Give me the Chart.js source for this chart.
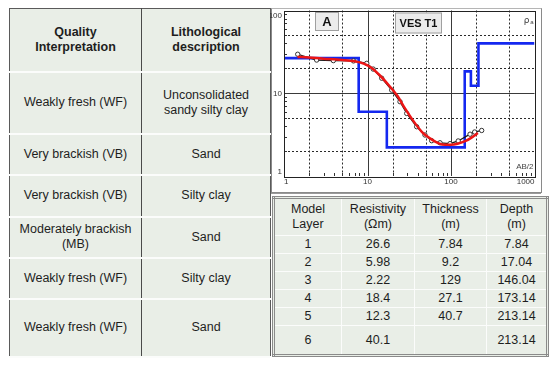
<!DOCTYPE html>
<html>
<head>
<meta charset="utf-8">
<script src="https://cdn.jsdelivr.net/npm/chart.js@4.4.1/dist/chart.umd.min.js"></script>
<style>
  body { margin: 0; width: 550px; height: 366px; background: #fff; position: relative; overflow: hidden;
         font-family: "Liberation Sans", Arial, sans-serif; color: #1e1e1e; }
  table { border-collapse: collapse; position: absolute; background: #e9eee7; table-layout: fixed; }
  td { text-align: center; vertical-align: middle; padding: 0; line-height: 1.2; }
  #left-table { left: 9px; top: 8px; width: 262px; height: 348px; border: 1.5px solid #5a5a5a; font-size: 12.5px; }
  #left-table td { border-bottom: 2px solid #fbfcfb; }
  #left-table td:first-child { border-right: 1.5px solid #4a4a4a; }
  #left-table tr:first-child td { font-weight: bold; }
  #panel { position: absolute; left: 271px; top: 8px; width: 269px; height: 183px; border: 1px solid #8a8a8a; border-top-color: #b5b5b5; }
  #panel-rule { position: absolute; left: 271px; top: 193px; width: 270px; height: 0; border-top: 1px solid #9a9a9a; }
  #chart-wrap { position: absolute; left: 270px; top: 0; width: 280px; height: 195px; }
  #model-table { left: 272px; top: 196px; width: 268px; height: 160px; border: 3px double #8a8a8a; font-size: 12.5px; }
  #model-table td { border: 1.5px solid #fbfcfb; }
</style>
</head>
<body>
<table id="left-table"></table>
<div id="panel"></div>
<div id="panel-rule"></div>
<div id="chart-wrap"><canvas id="chart-ves" width="280" height="195"></canvas></div>
<table id="model-table"></table>
<script>
// left table
const qualityHeader = 'Quality<br>Interpretation';
const lithoHeader = 'Lithological<br>description';
const qualityLabels = ['Weakly fresh (WF)', 'Very brackish (VB)', 'Very brackish (VB)', 'Moderately brackish<br>(MB)', 'Weakly fresh (WF)', 'Weakly fresh (WF)'];
const lithoLabels = ['Unconsolidated<br>sandy silty clay', 'Sand', 'Silty clay', 'Sand', 'Silty clay', 'Sand'];
const leftRowHeights = [63, 62, 41, 42, 41, 41, 58];

// model table
const modelHeader = ['Model<br>Layer', 'Resistivity<br>(Ωm)', 'Thickness<br>(m)', 'Depth<br>(m)'];
const layerNo = [1, 2, 3, 4, 5, 6];
const resistivity = [26.6, 5.98, 2.22, 18.4, 12.3, 40.1];
const thickness = ['7.84', '9.2', '129', '27.1', '40.7', ''];
const depth = [7.84, 17.04, 146.04, 173.14, 213.14, 213.14];
const modelColWidths = [66, 72, 71, 59];
const modelRowHeights = [38, 18, 18, 18, 18, 18, 30];

// sounding curve (AB/2 in m, apparent resistivity in ohm-m)
const abHalf = [1.46, 2.46, 3.9, 6.8, 9.8, 11.7, 14.8, 19.5, 24.5, 29.5, 38.8, 48.8, 58.7, 73.8, 97.3, 122, 169, 192, 233];
const rhoObs = [29.6, 25.2, 24.8, 24.6, 23.0, 19.6, 15.2, 10.9, 7.9, 5.7, 3.94, 3.13, 2.67, 2.52, 2.46, 2.65, 3.2, 3.4, 3.55];
const fitX = [1.45, 2, 3, 5, 7, 9, 11, 14, 18, 23, 28, 35, 45, 56, 70, 85, 100, 120, 150, 180, 210];
const fitRho = [27.5, 27, 26.2, 25.2, 24.3, 22.8, 20.5, 16.5, 12.5, 9.2, 6.6, 4.7, 3.4, 2.85, 2.5, 2.38, 2.38, 2.45, 2.65, 2.95, 3.3];

const xTicks = [1, 10, 100, 1000];
const yTicks = [1, 10, 100];
const xDotted = [2, 5, 20, 50, 200, 500];
const yDotted = [2, 5, 20, 50];

function buildLeftTable() {
  const t = document.getElementById('left-table');
  let html = `<tr style="height:${leftRowHeights[0]}px"><td style="width:131px">${qualityHeader}</td><td>${lithoHeader}</td></tr>`;
  qualityLabels.forEach((q, i) => {
    html += `<tr style="height:${leftRowHeights[i + 1]}px"><td>${q}</td><td>${lithoLabels[i]}</td></tr>`;
  });
  t.innerHTML = html;
}

function buildModelTable() {
  const t = document.getElementById('model-table');
  let html = `<tr style="height:${modelRowHeights[0]}px">` +
    modelHeader.map((h, i) => `<td style="width:${modelColWidths[i]}px">${h}</td>`).join('') + '</tr>';
  layerNo.forEach((n, i) => {
    html += `<tr style="height:${modelRowHeights[i + 1]}px"><td>${n}</td><td>${resistivity[i]}</td><td>${thickness[i]}</td><td>${depth[i]}</td></tr>`;
  });
  t.innerHTML = html;
}

buildLeftTable();
buildModelTable();

// step model from layer table
const stepX = [1].concat(depth.slice(0, 5), [1000]);
const stepY = resistivity.concat([resistivity[resistivity.length - 1]]);

const vesPlugin = {
  id: 'vesGrid',
  beforeDatasetsDraw(chart) {
    const { ctx, chartArea: a, scales: { x, y } } = chart;
    ctx.save();
    ctx.lineWidth = 1;
    ctx.strokeStyle = '#2a2a2a';
    ctx.setLineDash([2, 2]);
    xDotted.forEach(v => {
      const p = Math.round(x.getPixelForValue(v)) + 0.5;
      ctx.beginPath(); ctx.moveTo(p, a.top); ctx.lineTo(p, a.bottom); ctx.stroke();
    });
    yDotted.forEach(v => {
      const p = Math.round(y.getPixelForValue(v)) + 0.5;
      ctx.beginPath(); ctx.moveTo(a.left, p); ctx.lineTo(a.right, p); ctx.stroke();
    });
    ctx.setLineDash([]);
    ctx.strokeStyle = '#3a3a3a';
    [10, 100].forEach(v => {
      const p = Math.round(x.getPixelForValue(v)) + 0.5;
      ctx.beginPath(); ctx.moveTo(p, a.top); ctx.lineTo(p, a.bottom); ctx.stroke();
    });
    const p10 = Math.round(y.getPixelForValue(10)) + 0.5;
    ctx.beginPath(); ctx.moveTo(a.left, p10); ctx.lineTo(a.right, p10); ctx.stroke();

    // minor ticks
    ctx.strokeStyle = '#333';
    [1, 10, 100].forEach(d => {
      for (let m = 2; m <= 9; m++) {
        const px = Math.round(x.getPixelForValue(d * m)) + 0.5;
        ctx.beginPath(); ctx.moveTo(px, a.bottom); ctx.lineTo(px, a.bottom - 3); ctx.stroke();
        if (d < 100) {
          const py = Math.round(y.getPixelForValue(d * m)) + 0.5;
          ctx.beginPath(); ctx.moveTo(a.left, py); ctx.lineTo(a.left + 3, py); ctx.stroke();
        }
      }
    });
    ctx.restore();
  },
  afterDatasetsDraw(chart) {
    const { ctx, chartArea: a, scales: { y } } = chart;
    ctx.save();
    ctx.strokeStyle = '#222';
    ctx.lineWidth = 1;
    ctx.strokeRect(Math.round(a.left) + 0.5, Math.round(a.top) + 0.5, Math.round(a.right - a.left), Math.round(a.bottom - a.top));

    // y tick labels, first and last kept inside the plot height
    ctx.fillStyle = '#333';
    ctx.font = '8px "Liberation Sans", Arial, sans-serif';
    ctx.textAlign = 'right';
    yTicks.forEach((v, i) => {
      ctx.textBaseline = i === 0 ? 'bottom' : (i === yTicks.length - 1 ? 'top' : 'middle');
      ctx.fillText(String(v), a.left - 2, y.getPixelForValue(v) + (i === 0 ? 0 : (i === yTicks.length - 1 ? 1 : 1)));
    });

    const box = (bx, by, w, h, text, size) => {
      ctx.fillStyle = '#ececec';
      ctx.fillRect(bx, by, w, h);
      ctx.strokeStyle = '#a0a0a0';
      ctx.strokeRect(bx + 0.5, by + 0.5, w - 1, h - 1);
      ctx.fillStyle = '#111';
      ctx.font = `bold ${size}px "Liberation Sans", Arial, sans-serif`;
      ctx.textAlign = 'center';
      ctx.textBaseline = 'middle';
      ctx.fillText(text, bx + w / 2, by + h / 2 + 1);
    };
    box(a.left + 31, a.top + 1.5, 24, 19, 'A', 13);
    box(a.left + 111, a.top + 2, 47, 21, 'VES T1', 11);

    ctx.fillStyle = '#444';
    ctx.textAlign = 'right';
    ctx.textBaseline = 'alphabetic';
    ctx.font = '8px "Liberation Sans", Arial, sans-serif';
    ctx.fillText('AB/2', a.right - 1, a.bottom - 7);
    ctx.font = '9px "DejaVu Sans", sans-serif';
    ctx.fillText('ρ', a.right - 5, a.top + 12);
    ctx.font = '6px "Liberation Sans", Arial, sans-serif';
    ctx.fillText('a', a.right - 1, a.top + 13);
    ctx.restore();
  }
};

new Chart(document.getElementById('chart-ves'), {
  type: 'line',
  data: {
    datasets: [
      { label: 'Fitted', data: fitX.map((v, i) => ({ x: v, y: fitRho[i] })), borderColor: '#ec1515', borderWidth: 2.5,
        pointRadius: 0, cubicInterpolationMode: 'monotone', fill: false },
      { label: 'Observed', data: abHalf.map((v, i) => ({ x: v, y: rhoObs[i] })), borderColor: '#1a1a1a', borderWidth: 1.3,
        pointRadius: 2.2, pointBackgroundColor: '#fff', pointBorderColor: '#333', pointBorderWidth: 1, tension: 0, fill: false },
      { label: 'Model', data: stepX.map((v, i) => ({ x: v, y: stepY[i] })), borderColor: '#1428f0', borderWidth: 2.6,
        pointRadius: 0, stepped: 'before', fill: false },
    ]
  },
  options: {
    responsive: false,
    animation: false,
    devicePixelRatio: 1,
    layout: { padding: { left: 2, right: 15.5, top: 10.5, bottom: 9 } },
    plugins: { legend: { display: false }, tooltip: { enabled: false } },
    scales: {
      x: {
        type: 'logarithmic', min: 1, max: 1000,
        afterBuildTicks: s => { s.ticks = xTicks.map(v => ({ value: v })); },
        afterFit: s => { s.height = 10; s.paddingLeft = 0; s.paddingRight = 0; },
        grid: { display: false, drawTicks: false },
        border: { display: false },
        ticks: { color: '#333', font: { size: 8, family: '"Liberation Sans", Arial' }, padding: 1, maxRotation: 0, align: 'inner',
                 autoSkip: false, callback: v => String(v) }
      },
      y: {
        type: 'logarithmic', min: 1, max: 100,
        afterBuildTicks: s => { s.ticks = yTicks.map(v => ({ value: v })); },
        afterFit: s => { s.width = 12; s.paddingTop = 0; s.paddingBottom = 0; },
        grid: { display: false, drawTicks: false },
        border: { display: false },
        ticks: { display: false }
      }
    }
  },
  plugins: [vesPlugin]
});
</script>
</body>
</html>
